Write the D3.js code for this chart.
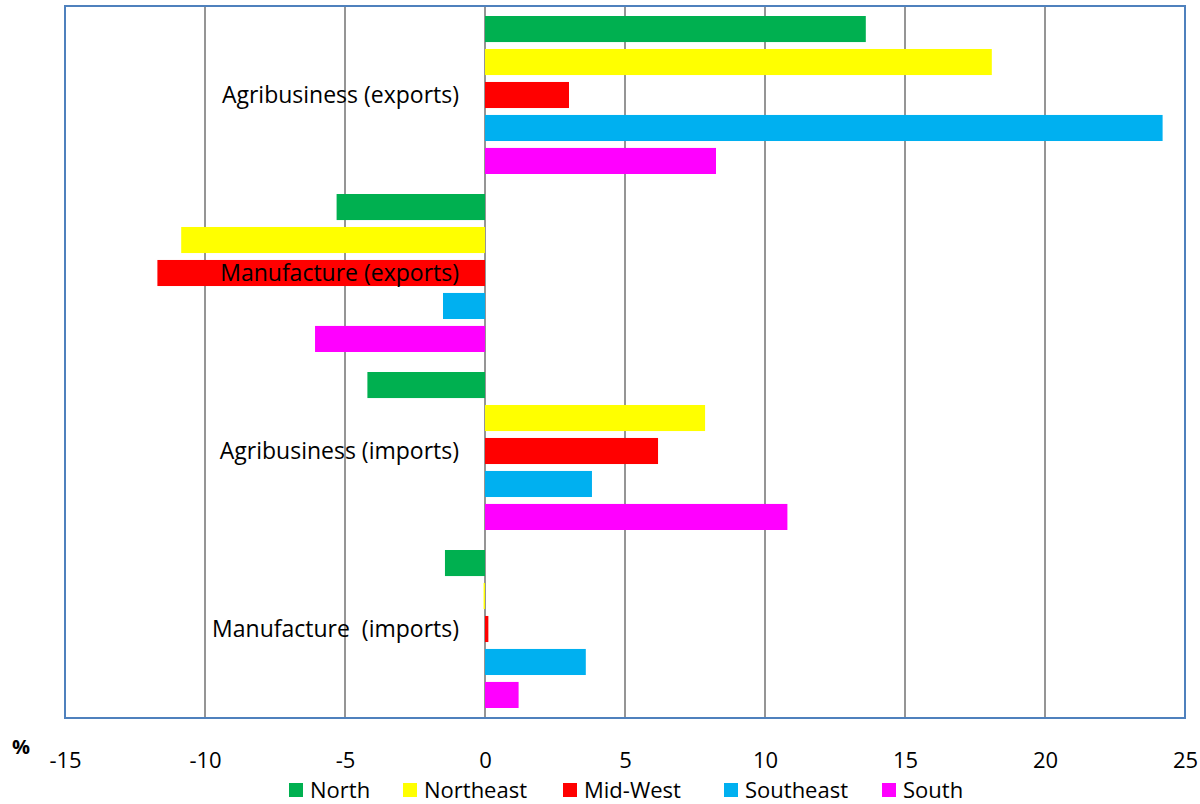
<!DOCTYPE html>
<html>
<head>
<meta charset="utf-8">
<script src="https://cdn.jsdelivr.net/npm/d3@7"></script>
<style>
  body { margin: 0; background: #fff; }
  svg text { font-family: "Open Sans", "Liberation Sans", sans-serif; fill: #000; }
</style>
</head>
<body>
<div id="chart"></div>
<script>
// Categories, top to bottom
var categories = ["Agribusiness (exports)", "Manufacture (exports)", "Agribusiness (imports)", "Manufacture  (imports)"];

// Regions (series)
var regions = ["North", "Northeast", "Mid-West", "Southeast", "South"];
var regionColors = ["#00b050", "#ffff00", "#ff0000", "#00b0f0", "#ff00ff"];

// values in %, one array per region, same order as categories
var north     = [13.6, -5.3, -4.2, -1.43];
var northeast = [18.1, -10.85, 7.86, -0.05];
var midWest   = [3.0, -11.7, 6.18, 0.12];
var southeast = [24.2, -1.5, 3.82, 3.6];
var south     = [8.25, -6.07, 10.8, 1.2];

var tickValues = [-15, -10, -5, 0, 5, 10, 15, 20, 25];

var seriesValues = [north, northeast, midWest, southeast, south];

var width = 1200, height = 804;
var plot = { left: 65, right: 1185, top: 6, bottom: 718 };

var svg = d3.select("#chart").append("svg")
    .attr("width", width)
    .attr("height", height);

var x = d3.scaleLinear()
    .domain([-15, 25])
    .range([plot.left, plot.right]);

var y0 = d3.scaleBand()
    .domain(categories)
    .range([plot.top, plot.bottom])
    .paddingInner(0)
    .paddingOuter(0);

// bars sit inside the band with gaps between them
var y1 = d3.scaleBand()
    .domain(regions)
    .range([10, y0.bandwidth() - 10])
    .paddingInner(0.21)
    .paddingOuter(0);

// gridlines
svg.append("g")
    .selectAll("line")
    .data(tickValues)
    .enter()
    .append("line")
    .attr("x1", function(d) { return x(d); })
    .attr("x2", function(d) { return x(d); })
    .attr("y1", plot.top)
    .attr("y2", plot.bottom)
    .attr("stroke", "#959595")
    .attr("stroke-width", 2);

// bars
var rows = [];
categories.forEach(function(c, i) {
    regions.forEach(function(r, j) {
        rows.push({ cat: c, region: r, color: regionColors[j], value: seriesValues[j][i] });
    });
});

svg.append("g")
    .selectAll("rect")
    .data(rows)
    .enter()
    .append("rect")
    .attr("x", function(d) { return x(Math.min(0, d.value)); })
    .attr("y", function(d) { return y0(d.cat) + y1(d.region); })
    .attr("width", function(d) { return Math.abs(x(d.value) - x(0)); })
    .attr("height", y1.bandwidth())
    .attr("fill", function(d) { return d.color; });

// plot border
svg.append("rect")
    .attr("x", plot.left)
    .attr("y", plot.top)
    .attr("width", plot.right - plot.left)
    .attr("height", plot.bottom - plot.top)
    .attr("fill", "none")
    .attr("stroke", "#4f81bd")
    .attr("stroke-width", 2);

// category labels, drawn on top of the bars
svg.append("g")
    .selectAll("text")
    .data(categories)
    .enter()
    .append("text")
    .attr("x", x(0) - 26)
    .attr("y", function(d) { return y0(d) + y0.bandwidth() / 2; })
    .attr("dy", "0.35em")
    .attr("text-anchor", "end")
    .attr("font-size", 23)
    .style("white-space", "pre")
    .text(function(d) { return d; });

// x axis tick labels (plain hyphen for negatives)
var xAxis = d3.axisBottom(x)
    .tickValues(tickValues)
    .tickSize(0)
    .tickPadding(0)
    .tickFormat(function(d) { return String(d); });

var axisG = svg.append("g")
    .attr("transform", "translate(0," + 748 + ")")
    .call(xAxis);
axisG.select(".domain").remove();
axisG.selectAll("text")
    .attr("font-size", 22)
    .attr("dy", "0.35em")
    .attr("y", 12)
    .style("font-family", "'Open Sans', sans-serif");

svg.append("text")
    .attr("x", 21)
    .attr("y", 747)
    .attr("dy", "0.35em")
    .attr("text-anchor", "middle")
    .attr("font-size", 20)
    .attr("font-weight", "bold")
    .text("%");

// legend
var legendX = [289, 403, 563, 724, 882];
var legend = svg.append("g")
    .selectAll("g")
    .data(regions)
    .enter()
    .append("g")
    .attr("transform", function(d, i) { return "translate(" + legendX[i] + "," + 790 + ")"; });

legend.append("rect")
    .attr("x", 0)
    .attr("y", -7)
    .attr("width", 14)
    .attr("height", 14)
    .attr("fill", function(d, i) { return regionColors[i]; });

legend.append("text")
    .attr("x", 21)
    .attr("y", 0)
    .attr("dy", "0.35em")
    .attr("font-size", 22)
    .text(function(d) { return d; });
</script>
</body>
</html>
